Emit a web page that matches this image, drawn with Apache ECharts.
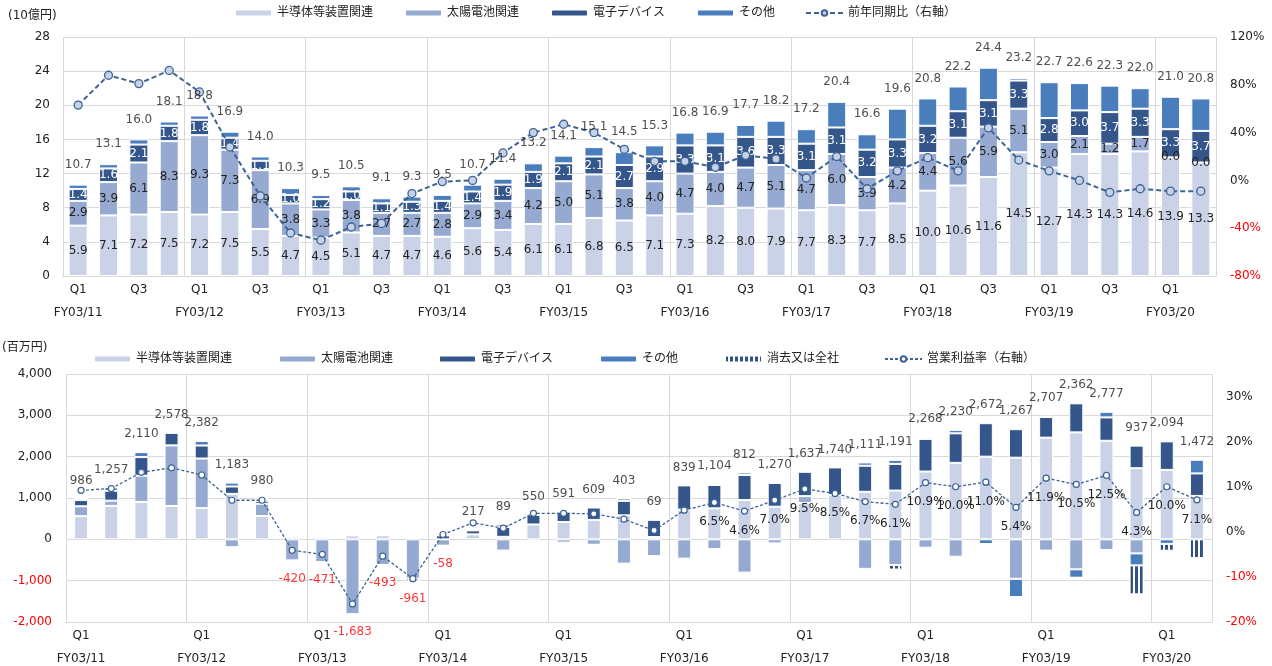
<!DOCTYPE html>
<html><head><meta charset="utf-8">
<script src="https://cdn.jsdelivr.net/npm/echarts/dist/echarts.min.js"></script>
<style>html,body{margin:0;padding:0;background:#fff}#c{width:1272px;height:666px}</style>
</head><body><div id="c"></div>
<script>
// ---------- categories ----------
const fiscalYears = ['FY03/11','FY03/12','FY03/13','FY03/14','FY03/15','FY03/16','FY03/17','FY03/18','FY03/19','FY03/20'];
const quarterNames = ['Q1','Q2','Q3','Q4'];
const barCount = 38;

// ---------- top chart: revenue (10億円) ----------
const semiRev  = [5.9,7.1,7.2,7.5, 7.2,7.5,5.5,4.7, 4.5,5.1,4.7,4.7, 4.6,5.6,5.4,6.1, 6.1,6.8,6.5,7.1, 7.3,8.2,8.0,7.9, 7.7,8.3,7.7,8.5, 10.0,10.6,11.6,14.5, 12.7,14.3,14.3,14.6, 13.9,13.3];
const solarRev = [2.9,3.9,6.1,8.3, 9.3,7.3,6.9,3.8, 3.3,3.8,2.7,2.7, 2.8,2.9,3.4,4.2, 5.0,5.1,3.8,4.0, 4.7,4.0,4.7,5.1, 4.7,6.0,3.9,4.2, 4.4,5.6,5.9,5.1, 3.0,2.1,1.2,1.7, 0.0,0.0];
const elecRev  = [1.4,1.6,2.1,1.8, 1.8,1.4,1.1,1.0, 1.2,1.0,1.1,1.3, 1.4,1.4,1.9,1.9, 2.1,2.1,2.7,2.9, 3.3,3.1,3.6,3.3, 3.1,3.1,3.2,3.3, 3.2,3.1,3.1,3.3, 2.8,3.0,3.7,3.3, 3.3,3.7];
const otherRev = [0.5,0.5,0.6,0.5, 0.5,0.7,0.5,0.8, 0.5,0.6,0.6,0.6, 0.7,0.8,0.7,1.0, 0.9,1.1,1.5,1.3, 1.5,1.6,1.4,1.9, 1.7,3.0,1.8,3.6, 3.2,2.9,3.8,0.3, 4.2,3.2,3.1,2.4, 3.8,3.8];
const totalRev = [10.7,13.1,16.0,18.1, 18.8,16.9,14.0,10.3, 9.5,10.5,9.1,9.3, 9.5,10.7,11.4,13.2, 14.1,15.1,14.5,15.3, 16.8,16.9,17.7,18.2, 17.2,20.4,16.6,19.6, 20.8,22.2,24.4,23.2, 22.7,22.6,22.3,22.0, 21.0,20.8];
const yoyRev   = [63,88,81,92, 74,28,-13,-44, -50,-39,-36,-11, -1,0,23,40, 47,40,26,16, 16,11,21,18, 2,20,-7,8, 19,8,44,17, 8,0,-10,-7, -9,-9];

// ---------- bottom chart: operating profit (百万円) ----------
const semiOp  = [560,810,905,806, 755,1100,564,60, 50,95,100,30, 0,120,60,360, 420,470,580,55, 720,750,950,790, 880,1070,1150,1180, 1640,1850,2000,1975, 2460,2588,2385,1720, 1680,1050];
const solarOp = [240,125,635,1467, 1200,-190,298,-510, -550,-1810,-620,-950, -153,0,-271,-40, -79,-131,-587,-406, -466,-234,-805,-97, 165,0,-714,-621, -202,-420,0,-955, -273,-726,-258,-340, 0,0];
const elecOp  = [150,240,450,306, 315,178,70,0, 0,32,27,25, 95,97,240,230, 250,300,350,420, 585,565,605,577, 592,670,630,645, 790,715,810,690, 500,702,565,547, 690,545];
const otherOp = [36,82,120,0, 112,95,48,30, 29,0,0,0, 0,0,60,0, 0,-30,60,0, 0,38,62,0, 0,0,80,97, 40,85,-113,-443, 30,-202,135,-290, -110,330];
const elimOp  = [0,0,0,0, 0,0,0,0, 0,0,0,-66, 0,0,0,0, 0,0,0,0, 0,-15,0,0, 0,0,-35,-110, 0,0,-25,0, -10,0,-50,-700, -166,-453];
const totalOp = [986,1257,2110,2578, 2382,1183,980,-420, -471,-1683,-493,-961, -58,217,89,550, 591,609,403,69, 839,1104,812,1270, 1637,1740,1111,1191, 2268,2230,2672,1267, 2707,2362,2777,937, 2094,1472];
const marginOp = [9.2,9.6,13.2,14.2, 12.6,7.0,7.0,-4.1, -5.0,-16.0,-5.4,-10.4, -0.6,2.0,0.8,4.1, 4.1,4.0,2.8,0.3, 4.8,6.5,4.6,7.0, 9.5,8.5,6.7,6.1, 10.9,10.0,11.0,5.4, 11.9,10.5,12.5,4.3, 10.0,7.1];
const firstMarginLabel = 21;

// ---------- build categories ----------
const catFy = [], catQ = [], cats = [];
fiscalYears.forEach(fy => quarterNames.forEach(q => { catFy.push(fy); catQ.push(q); cats.push(fy + ' ' + q); }));
cats.length = barCount; catFy.length = barCount; catQ.length = barCount;

const FONT = "'DejaVu Sans','Noto Sans CJK JP',sans-serif";
const C_SEMI = '#C9D2E6', C_SOLAR = '#95A9D1', C_ELEC = '#34568A', C_OTHER = '#4A7DBB', C_LINE = '#3D6494';
const GRID_C = '#D9D9D9', TXT = '#222';

// stripe pattern for 消去又は全社
const pc = document.createElement('canvas'); pc.width = 5; pc.height = 4;
const pctx = pc.getContext('2d');
pctx.fillStyle = '#ffffff'; pctx.fillRect(0,0,5,4);
pctx.fillStyle = '#2F5286'; pctx.fillRect(0,0,3,4);
const stripe = {image: pc, repeat: 'repeat'};

function xAxisFor(gridIndex, showQ3) {
  return {
    type: 'category', gridIndex, data: cats, boundaryGap: true, position: 'bottom',
    axisLine: {show: true, onZero: false, lineStyle: {color: GRID_C}},
    axisTick: {show: false},
    splitLine: {show: true, interval: (i) => i % 4 === 0, lineStyle: {color: GRID_C}},
    axisLabel: {
      interval: 0, margin: 2, color: TXT, fontSize: 12, fontFamily: FONT, lineHeight: 23,
      formatter: (v, i) => {
        if (catQ[i] === 'Q1') return 'Q1\n' + catFy[i];
        if (showQ3 && catQ[i] === 'Q3') return 'Q3';
        return '';
      }
    }
  };
}

const posTop = totalOp.map((t, i) => [semiOp[i], solarOp[i], elecOp[i], otherOp[i], elimOp[i]].filter(v => v > 0).reduce((a, b) => a + b, 0));
const negBot = totalOp.map((t, i) => [semiOp[i], solarOp[i], elecOp[i], otherOp[i], elimOp[i]].filter(v => v < 0).reduce((a, b) => a + b, 0));

const inLabel = (color) => ({show: true, position: 'inside', color, fontSize: 12, fontFamily: FONT, formatter: p => p.value.toFixed(1)});
const barBorder = {borderColor: '#ffffff', borderWidth: 1};

const legendItem = (name, left, top) => ({
  data: [name], left, top, padding: 0, itemWidth: 37, itemHeight: 7, itemGap: 5,
  textStyle: {color: TXT, fontSize: 12, fontFamily: FONT}, selectedMode: false
});

const option = {
  animation: false,
  textStyle: {fontFamily: FONT},
  graphic: [
    {type: 'text', left: 8, top: 10, style: {text: '(10億円)', font: '12px ' + FONT, fill: TXT}},
    {type: 'text', left: 2, top: 342, style: {text: '(百万円)', font: '12px ' + FONT, fill: TXT}}
  ],
  legend: [
    legendItem('半導体等装置関連', 234, 7),
    legendItem('太陽電池関連', 404, 7),
    legendItem('電子デバイス', 550, 7),
    legendItem('その他', 696, 7),
    legendItem('前年同期比（右軸）', 805, 7),
    legendItem('半導体等装置関連', 93, 353),
    legendItem('太陽電池関連', 278, 353),
    legendItem('電子デバイス', 438, 353),
    legendItem('その他', 599, 353),
    legendItem('消去又は全社', 724, 353),
    legendItem('営業利益率（右軸）', 884, 353)
  ],
  grid: [
    {left: 63, top: 37, width: 1153, height: 239, outerBoundsMode: 'none'},
    {left: 66, top: 374, width: 1146, height: 248, outerBoundsMode: 'none'}
  ],
  xAxis: [xAxisFor(0, true), xAxisFor(1, false)],
  yAxis: [
    {type: 'value', gridIndex: 0, min: 0, max: 28, interval: 4,
     axisLine: {show: false}, axisTick: {show: false},
     splitLine: {lineStyle: {color: GRID_C}},
     axisLabel: {margin: 13, color: TXT, fontSize: 12, fontFamily: FONT}},
    {type: 'value', gridIndex: 0, position: 'right', min: -80, max: 120, interval: 40,
     axisLine: {show: false}, axisTick: {show: false}, splitLine: {show: false},
     axisLabel: {margin: 14, fontSize: 12, fontFamily: FONT,
       formatter: v => v + '%',
       color: v => (Number(v) < 0 ? '#FF0000' : TXT)}},
    {type: 'value', gridIndex: 1, min: -2000, max: 4000, interval: 1000,
     axisLine: {show: false}, axisTick: {show: false},
     splitLine: {lineStyle: {color: GRID_C}},
     axisLabel: {margin: 14, fontSize: 12, fontFamily: FONT,
       formatter: v => Number(v).toLocaleString('en-US'),
       color: v => (Number(v) < 0 ? '#FF0000' : TXT)}},
    {type: 'value', gridIndex: 1, position: 'right', min: -20, max: 35, interval: 10,
     axisLine: {show: false}, axisTick: {show: false}, splitLine: {show: false},
     axisLabel: {margin: 14, fontSize: 12, fontFamily: FONT,
       formatter: v => (Number(v) > 30 ? '' : v + '%'),
       color: v => (Number(v) < 0 ? '#FF0000' : TXT)}}
  ],
  series: [
    // top chart
    {name: '半導体等装置関連', type: 'bar', xAxisIndex: 0, yAxisIndex: 0, stack: 'rev', barWidth: 19,
     data: semiRev, itemStyle: Object.assign({color: C_SEMI}, barBorder), label: inLabel(TXT)},
    {name: '太陽電池関連', type: 'bar', xAxisIndex: 0, yAxisIndex: 0, stack: 'rev', barWidth: 19,
     data: solarRev, itemStyle: Object.assign({color: C_SOLAR}, barBorder), label: inLabel(TXT)},
    {name: '電子デバイス', type: 'bar', xAxisIndex: 0, yAxisIndex: 0, stack: 'rev', barWidth: 19,
     data: elecRev, itemStyle: Object.assign({color: C_ELEC}, barBorder), label: inLabel('#ffffff')},
    {name: 'その他', type: 'bar', xAxisIndex: 0, yAxisIndex: 0, stack: 'rev', barWidth: 19,
     data: otherRev, itemStyle: Object.assign({color: C_OTHER}, barBorder)},
    {name: 'revTotal', type: 'scatter', xAxisIndex: 0, yAxisIndex: 0, data: totalRev, symbolSize: 0, z: 5,
     label: {show: true, position: 'top', distance: 14, color: TXT, fontSize: 12, fontFamily: FONT,
       formatter: p => p.value.toFixed(1)}},
    {name: '前年同期比（右軸）', type: 'line', xAxisIndex: 0, yAxisIndex: 1, data: yoyRev, z: 4,
     symbol: 'circle', symbolSize: 8,
     lineStyle: {color: C_LINE, width: 2, type: [5, 3]},
     itemStyle: {color: '#C6D1E7', borderColor: C_LINE, borderWidth: 1.3}},
    // bottom chart
    {name: '半導体等装置関連', type: 'bar', xAxisIndex: 1, yAxisIndex: 2, stack: 'op', barWidth: 14,
     data: semiOp, itemStyle: Object.assign({color: C_SEMI}, barBorder)},
    {name: '太陽電池関連', type: 'bar', xAxisIndex: 1, yAxisIndex: 2, stack: 'op', barWidth: 14,
     data: solarOp, itemStyle: Object.assign({color: C_SOLAR}, barBorder)},
    {name: '電子デバイス', type: 'bar', xAxisIndex: 1, yAxisIndex: 2, stack: 'op', barWidth: 14,
     data: elecOp, itemStyle: Object.assign({color: C_ELEC}, barBorder)},
    {name: 'その他', type: 'bar', xAxisIndex: 1, yAxisIndex: 2, stack: 'op', barWidth: 14,
     data: otherOp, itemStyle: Object.assign({color: C_OTHER}, barBorder)},
    {name: '消去又は全社', type: 'bar', xAxisIndex: 1, yAxisIndex: 2, stack: 'op', barWidth: 14,
     data: elimOp, itemStyle: Object.assign({color: stripe}, barBorder)},
    {name: 'opTotal', type: 'scatter', xAxisIndex: 1, yAxisIndex: 2, symbolSize: 0, z: 5,
     data: totalOp.map((t, i) => ({
       value: t >= 0 ? posTop[i] : negBot[i],
       label: {position: t >= 0 ? 'top' : 'bottom', color: t >= 0 ? TXT : '#FF0000'}
     })),
     label: {show: true, distance: 12, fontSize: 12, fontFamily: FONT,
       formatter: p => totalOp[p.dataIndex].toLocaleString('en-US')}},
    {name: '営業利益率（右軸）', type: 'line', xAxisIndex: 1, yAxisIndex: 3, data: marginOp, z: 4,
     symbol: 'circle', symbolSize: 6,
     lineStyle: {color: C_LINE, width: 1.3, type: [3, 2]},
     itemStyle: {color: '#ffffff', borderColor: C_LINE, borderWidth: 1.2},
     label: {show: true, position: 'bottom', distance: 10, color: TXT, fontSize: 12, fontFamily: FONT,
       formatter: p => (p.dataIndex >= firstMarginLabel ? p.value.toFixed(1) + '%' : '')}}
  ]
};

const chart = echarts.init(document.getElementById('c'), null, {renderer: 'canvas'});
chart.setOption(option);
</script>
</body></html>
